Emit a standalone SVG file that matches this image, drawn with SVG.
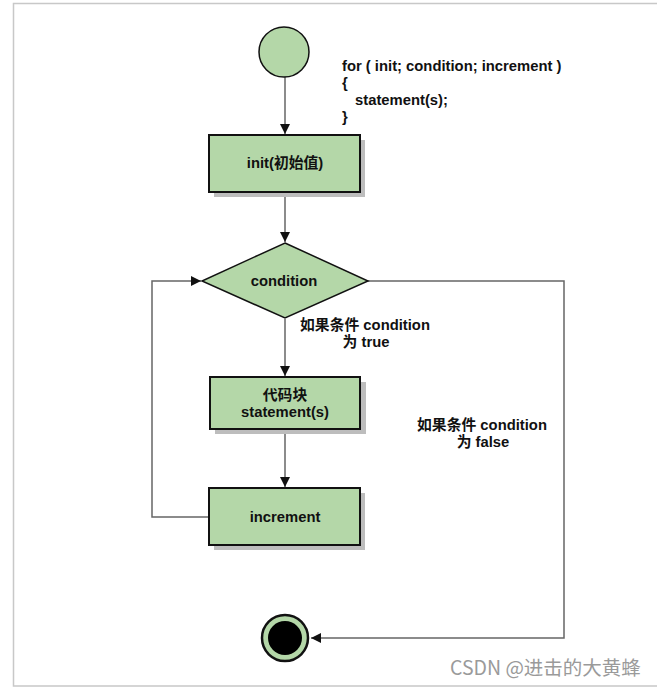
<svg xmlns="http://www.w3.org/2000/svg" width="657" height="688" viewBox="0 0 657 688">
<style>
text{font-family:"Liberation Sans","Noto Sans CJK SC",Arial,sans-serif;font-weight:bold;font-size:14.8px;fill:#111}
.c{text-anchor:middle}
.box{fill:#b4d7a8;stroke:#111;stroke-width:2}
.sh{fill:#bdbdbd}
.ln{fill:none;stroke:#666;stroke-width:1.5}
.wm{font-weight:normal;font-size:19.5px;fill:#9a9a9a;font-family:"Noto Sans CJK SC","Liberation Sans",sans-serif}
</style>
<defs>
<marker id="ar" viewBox="0 0 10 10" refX="10" refY="5" markerWidth="10" markerHeight="10" markerUnits="userSpaceOnUse" orient="auto">
<path d="M0,0 L10,5 L0,10 Z" fill="#111"/>
</marker>
</defs>
<rect width="657" height="688" fill="#fff"/>
<path d="M657,3.5 H13.5 V686 H657" fill="none" stroke="#c8c8c8" stroke-width="1.5"/>

<g id="connectors">
<line class="ln" x1="285" y1="77" x2="285" y2="134" marker-end="url(#ar)"/>
<line class="ln" x1="285" y1="193" x2="285" y2="242" marker-end="url(#ar)"/>
<line class="ln" x1="285" y1="319" x2="285" y2="376" marker-end="url(#ar)"/>
<line class="ln" x1="285" y1="430" x2="285" y2="487" marker-end="url(#ar)"/>
<path class="ln" d="M209,517 H152 V281 H201" marker-end="url(#ar)"/>
<path class="ln" d="M368,281 H564 V638 H311" marker-end="url(#ar)"/>
</g>

<g id="code">
<text x="342" y="71">for ( init; condition; increment )</text>
<text x="342" y="88">{</text>
<text x="355" y="105">statement(s);</text>
<text x="342" y="122">}</text>
</g>

<g id="start">
<circle cx="284" cy="52" r="25" fill="#b4d7a8" stroke="#111" stroke-width="1.5"/>
</g>

<g id="init">
<rect class="sh" x="214" y="140" width="151" height="57"/>
<rect class="box" x="209" y="135" width="151" height="57"/>
<text class="c" x="285" y="168">init(初始值)</text>
</g>

<g id="condition">
<polygon points="285,243 368,281 285,318 202,281" fill="#b4d7a8" stroke="#111" stroke-width="1.5"/>
<text class="c" x="284" y="286">condition</text>
</g>

<g id="label-true">
<text class="c" x="365" y="330">如果条件 condition</text>
<text class="c" x="366" y="347">为 true</text>
</g>

<g id="statement">
<rect class="sh" x="215" y="382" width="151" height="52"/>
<rect class="box" x="210" y="377" width="150" height="52"/>
<text class="c" x="285" y="400">代码块</text>
<text class="c" x="285" y="417">statement(s)</text>
</g>

<g id="label-false">
<text class="c" x="482" y="430">如果条件 condition</text>
<text class="c" x="483" y="447">为 false</text>
</g>

<g id="increment">
<rect class="sh" x="214" y="493" width="151" height="57"/>
<rect class="box" x="209" y="488" width="151" height="57"/>
<text class="c" x="285" y="522">increment</text>
</g>

<g id="end">
<circle cx="285" cy="638" r="23" fill="#b4d7a8" stroke="#111" stroke-width="2.5"/>
<circle cx="285" cy="638" r="17" fill="#000"/>
</g>

<text class="wm" x="450" y="675">CSDN @进击的大黄蜂</text>
</svg>
